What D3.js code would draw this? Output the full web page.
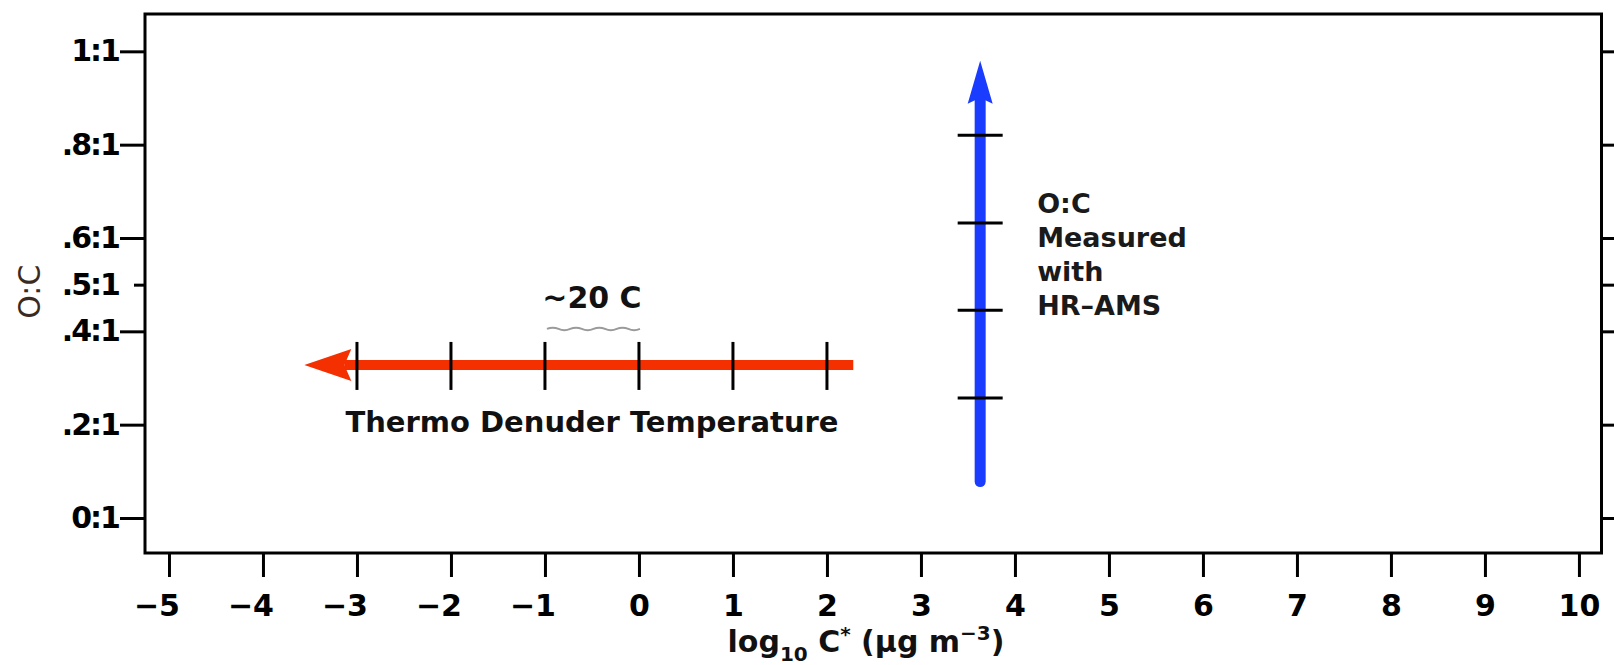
<!DOCTYPE html>
<html><head><meta charset="utf-8">
<script src="https://cdn.jsdelivr.net/npm/d3@7"></script>
<style>body{margin:0;background:#fff}svg{display:block}</style>
</head><body><svg id="c" width="1614" height="665"></svg>
<script>
// ---- data ----
const xTicks = [-5,-4,-3,-2,-1,0,1,2,3,4,5,6,7,8,9,10];
const yTicks = [0,0.2,0.4,0.5,0.6,0.8,1];
const yTickLabels = ["0:1",".2:1",".4:1",".5:1",".6:1",".8:1","1:1"];
const redArrowX = [2.28, -3.56];      // shaft start, tip
const redArrowY = 0.328;
const redTicks = [-3,-2,-1,0,1,2];
const blueArrowX = 3.63;
const blueArrowY = [0.078, 0.98];     // shaft start, tip
const blueTicks = [0.257,0.445,0.632,0.82];
const redLabel = "~20 C";
const redCaption = "Thermo Denuder Temperature";
const blueLines = ["O:C","Measured","with","HR\u2013AMS"];
const yTitle = "O:C";

// ---- layout ----
const L = 145, R = 1601.5, T = 14, B = 553;
const FONT = "'DejaVu Sans', Verdana, sans-serif";
const svg = d3.select("#c");
const x = d3.scaleLinear().domain([-5.255, 10.24]).range([L, R]);
const y = d3.scaleLinear().domain([-0.075, 1.08]).range([B, T]);

// frame
svg.append("rect").attr("x", L).attr("y", T).attr("width", R - L).attr("height", B - T)
  .attr("fill", "none").attr("stroke", "#000").attr("stroke-width", 3);

// bottom axis
const gx = svg.append("g").attr("transform", `translate(0,${B})`)
  .call(d3.axisBottom(x).tickValues(xTicks).tickSize(24)
    .tickFormat(d => d < 0 ? "\u2212" + Math.abs(d) : String(d)));
gx.select(".domain").remove();
gx.selectAll(".tick line").attr("stroke-width", 3);
const gxText = gx.selectAll(".tick text")
  .attr("y", 63).attr("dy", 0)
  .style("font-family", FONT).style("font-weight", "bold").style("font-size", "30px").attr("fill", "#000");
// centre the digits (not the minus sign) under each tick
const tmp = svg.append("text").style("font-family", FONT).style("font-weight", "bold").style("font-size", "30px").text("\u2212");
const minusW = tmp.node().getComputedTextLength();
tmp.remove();
gxText.each(function(d){ if (d < 0) d3.select(this).attr("x", -minusW / 2); });

// left axis
const gy = svg.append("g").attr("transform", `translate(${L},0)`)
  .call(d3.axisLeft(y).tickValues(yTicks).tickSize(25).tickPadding(1)
    .tickFormat(d => yTickLabels[yTicks.indexOf(d)]));
gy.select(".domain").remove();
gy.selectAll(".tick line").attr("stroke-width", 3).attr("x2", d => d === 0.5 ? -11 : -25);
gy.selectAll(".tick text").style("font-family", FONT).style("font-weight", "bold").style("font-size", "30px")
  .style("letter-spacing", "-2px").attr("fill", "#000");

// right axis (mirror ticks)
const gr = svg.append("g").attr("transform", `translate(${R},0)`)
  .call(d3.axisRight(y).tickValues(yTicks).tickSize(14).tickFormat(""));
gr.select(".domain").remove();
gr.selectAll(".tick line").attr("stroke-width", 3);

// y title
svg.append("text").attr("transform", `translate(40,${(y(0.4)+y(0.6))/2 + 7}) rotate(-90)`)
  .attr("text-anchor", "middle").style("font-family", FONT).style("font-size", "30px")
  .attr("fill", "#3a2a22").text(yTitle);

// x title
const xt = svg.append("text").attr("x", 866).attr("y", 652).attr("text-anchor", "middle")
  .style("font-family", FONT).style("font-weight", "bold").style("font-size", "30px").attr("fill", "#111");
xt.append("tspan").text("log");
xt.append("tspan").attr("dy", 9).style("font-size", "20px").text("10");
xt.append("tspan").attr("dy", -9).text(" C");
xt.append("tspan").attr("dy", -11).style("font-size", "20px").text("*");
xt.append("tspan").attr("dy", 11).text(" (\u00b5g m");
xt.append("tspan").attr("dy", -12).style("font-size", "20px").text("\u22123");
xt.append("tspan").attr("dy", 12).text(")");

// ---- red arrow ----
const RED = "#f42f00";
const ry = y(redArrowY);
const rTip = x(redArrowX[1]);
svg.append("line").attr("x1", x(redArrowX[0])).attr("x2", rTip + 40)
  .attr("y1", ry).attr("y2", ry).attr("stroke", RED).attr("stroke-width", 10);
svg.append("path")
  .attr("d", `M${rTip},${ry} L${rTip + 47},${ry - 16} L${rTip + 40},${ry} L${rTip + 47},${ry + 16} Z`)
  .attr("fill", RED);
svg.selectAll(".rtick").data(redTicks).join("line").attr("class", "rtick")
  .attr("x1", d => x(d)).attr("x2", d => x(d)).attr("y1", ry - 23).attr("y2", ry + 25)
  .attr("stroke", "#000").attr("stroke-width", 3);

const rCx = (x(redTicks[0]) + x(redTicks[redTicks.length - 1])) / 2;
svg.append("text").attr("x", rCx).attr("y", ry - 57).attr("text-anchor", "middle")
  .style("font-family", FONT).style("font-weight", "bold").style("font-size", "30px").attr("fill", "#111")
  .text(redLabel);
// faint squiggle under the label
{
  let d = `M${rCx - 45},${ry - 36}`;
  for (let i = 0; i < 4; i++) {
    const x0 = rCx - 45 + i * 23.25;
    d += ` Q${x0 + 5.8},${ry - 38.5} ${x0 + 11.6},${ry - 36} T${x0 + 23.25},${ry - 36}`;
  }
  svg.append("path").attr("d", d).attr("fill", "none").attr("stroke", "#9a9a9a").attr("stroke-width", 2);
}
svg.append("text").attr("x", rCx).attr("y", ry + 67).attr("text-anchor", "middle")
  .style("font-family", FONT).style("font-weight", "bold").style("font-size", "29px").attr("fill", "#111")
  .text(redCaption);

// ---- blue arrow ----
const BLUE = "#1a3cff";
const bx = x(blueArrowX);
const bTip = y(blueArrowY[1]);
svg.append("line").attr("x1", bx).attr("x2", bx).attr("y1", y(blueArrowY[0])).attr("y2", bTip + 38)
  .attr("stroke", BLUE).attr("stroke-width", 11).attr("stroke-linecap", "round");
svg.append("path")
  .attr("d", `M${bx},${bTip} L${bx - 12.5},${bTip + 43} L${bx},${bTip + 37} L${bx + 12.5},${bTip + 43} Z`)
  .attr("fill", BLUE);
svg.selectAll(".btick").data(blueTicks).join("line").attr("class", "btick")
  .attr("x1", bx - 22.5).attr("x2", bx + 22.5).attr("y1", d => y(d)).attr("y2", d => y(d))
  .attr("stroke", "#000").attr("stroke-width", 3);

const bBase = [213, 247, 280.5, 315];
svg.selectAll(".btext").data(blueLines).join("text").attr("class", "btext")
  .attr("x", bx + 57).attr("y", (d, i) => bBase[i])
  .style("font-family", FONT).style("font-weight", "bold").style("font-size", "27px").attr("fill", "#1a1a1a")
  .text(d => d);
</script>
</body></html>
